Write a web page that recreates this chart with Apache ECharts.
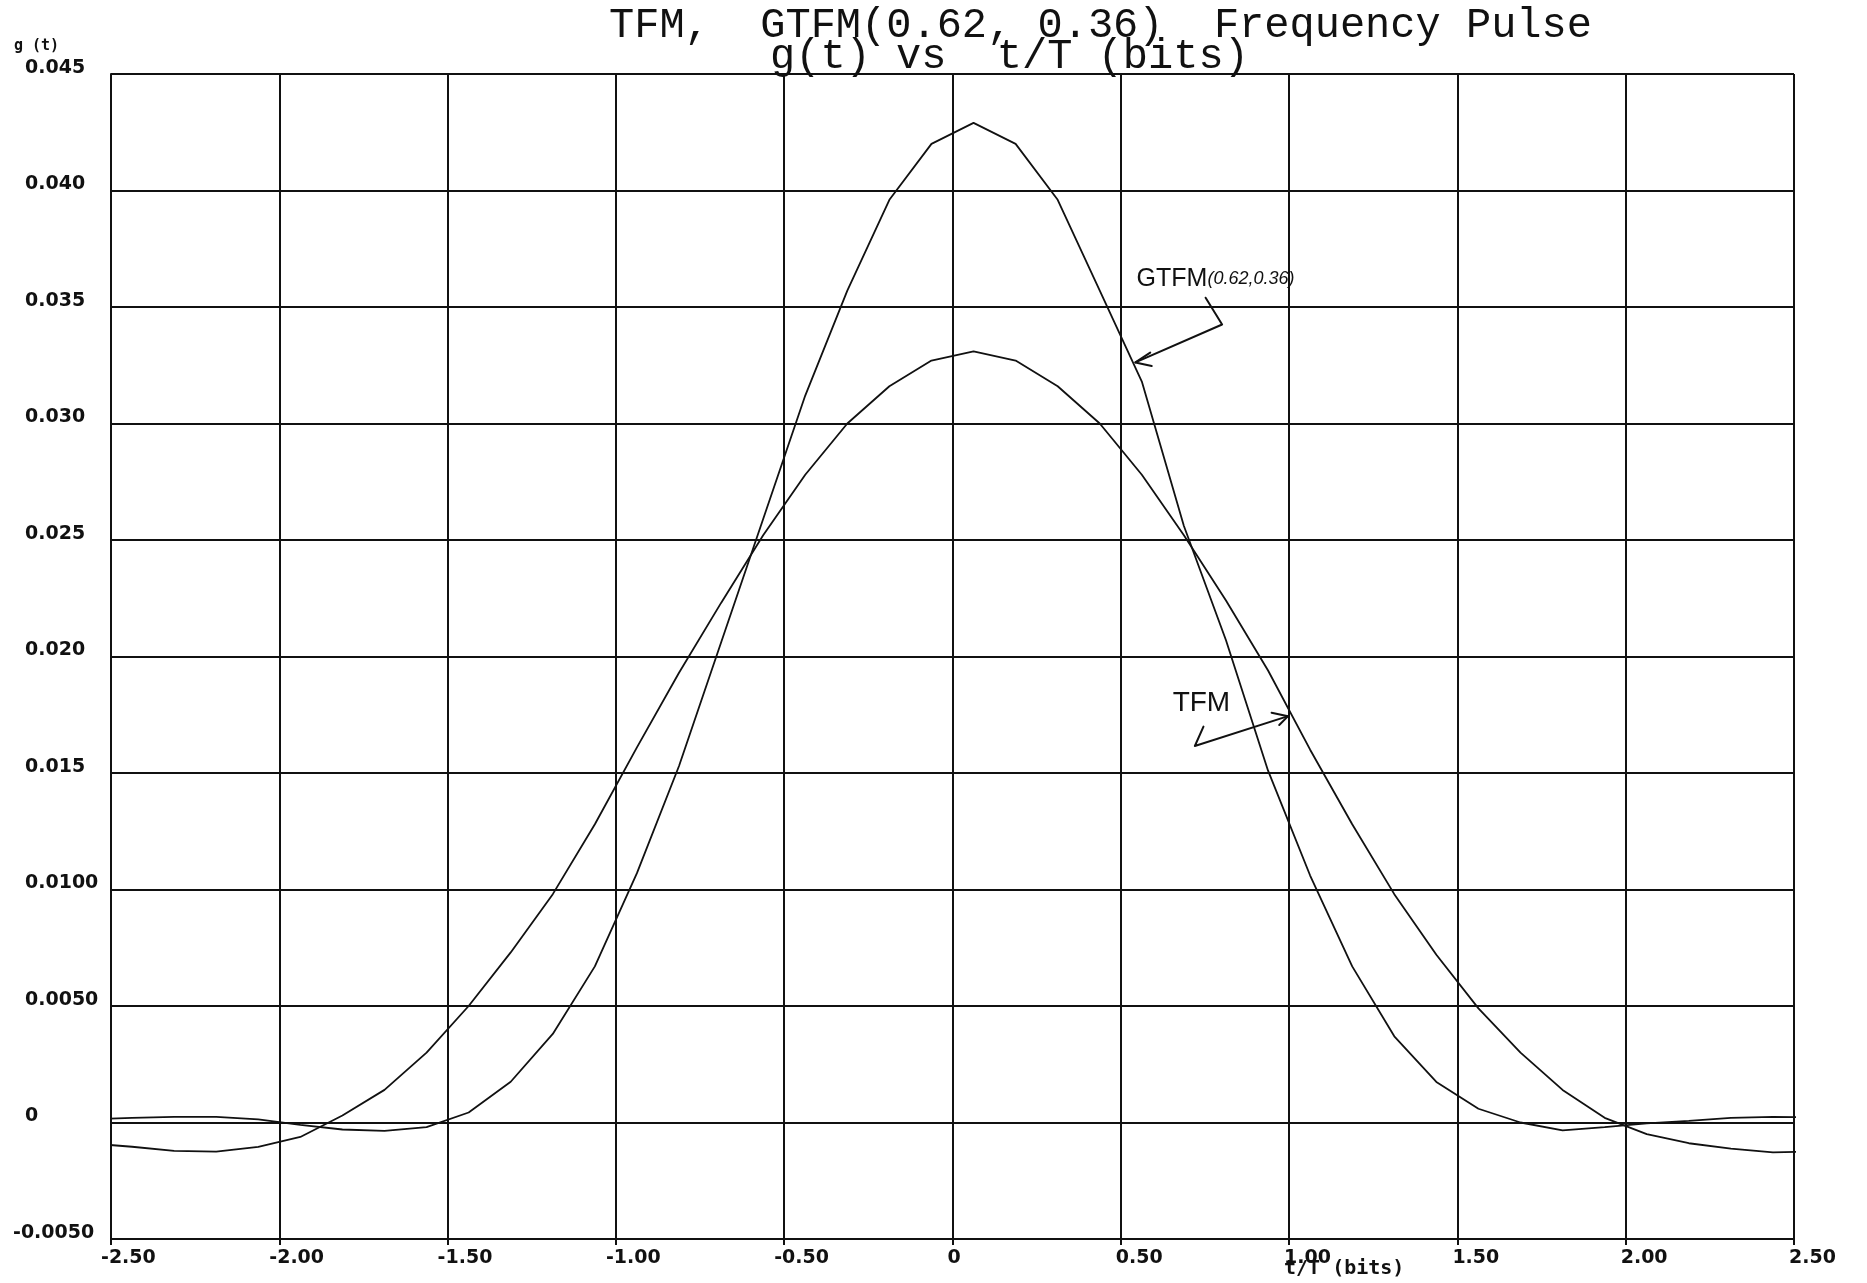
<!DOCTYPE html>
<html>
<head>
<meta charset="utf-8">
<title>TFM, GTFM(0.62, 0.36) Frequency Pulse</title>
<script src="https://cdn.jsdelivr.net/npm/echarts@6/dist/echarts.min.js"></script>
<style>
  html, body { margin: 0; padding: 0; background: #ffffff; }
  #chart { width: 1867px; height: 1283px; }
</style>
</head>
<body>
<div id="chart"></div>
<script>
// Sample instants t/T (bits); the pulses are centred on t/T = 1/16
const tSamples = [
  -2.5625, -2.4375, -2.3125, -2.1875, -2.0625, -1.9375, -1.8125, -1.6875,
  -1.5625, -1.4375, -1.3125, -1.1875, -1.0625, -0.9375, -0.8125, -0.6875,
  -0.5625, -0.4375, -0.3125, -0.1875, -0.0625,  0.0625,  0.1875,  0.3125,
   0.4375,  0.5625,  0.6875,  0.8125,  0.9375,  1.0625,  1.1875,  1.3125,
   1.4375,  1.5625,  1.6875,  1.8125,  1.9375,  2.0625,  2.1875,  2.3125,
   2.4375,  2.5625
];

// Tamed FM frequency pulse g(t)
const tfmPulse = [
  -0.00090, -0.00104, -0.00122, -0.00125, -0.00105, -0.00062,  0.00030,  0.00140,
   0.00300,  0.00500,  0.00730,  0.00980,  0.01280,  0.01610,  0.01930,  0.02230,
   0.02520,  0.02780,  0.03000,  0.03160,  0.03270,  0.03310,  0.03270,  0.03160,
   0.03000,  0.02780,  0.02520,  0.02240,  0.01940,  0.01600,  0.01280,  0.00980,
   0.00720,  0.00490,  0.00300,  0.00140,  0.00020, -0.00050, -0.00089, -0.00112,
  -0.00128, -0.00125
];

// Generalised TFM (0.62, 0.36) frequency pulse g(t)
const gtfmPulse = [
   0.00014,  0.00020,  0.00024,  0.00024,  0.00013, -0.00010, -0.00030, -0.00036,
  -0.00020,  0.00043,  0.00175,  0.00380,  0.00670,  0.01070,  0.01530,  0.02060,
   0.02590,  0.03120,  0.03570,  0.03960,  0.04200,  0.04290,  0.04200,  0.03960,
   0.03570,  0.03180,  0.02560,  0.02070,  0.01510,  0.01060,  0.00670,  0.00370,
   0.00174,  0.00059,  0.00000, -0.00034, -0.00020, -0.00004,  0.00007,  0.00020,
   0.00024,  0.00022
];

const xTickLabels = ['-2.50', '-2.00', '-1.50', '-1.00', '-0.50', '0', '0.50', '1.00', '1.50', '2.00', '2.50'];
const yTickLabels = ['-0.0050', '0', '0.0050', '0.0100', '0.015', '0.020', '0.025', '0.030', '0.035', '0.040', '0.045'];

// Hand-drawn callouts, anchored in data space (t/T, g)
const gtfmNote = {
  at: [0.547, 0.03567],
  hook: [[0.752, 0.03540], [0.801, 0.03425], [0.5434, 0.03262]],
  head: [[0.5874, 0.03304], [0.5434, 0.03262], [0.592, 0.03247]]
};
const tfmNote = {
  at: [0.654, 0.01741],
  hook: [[0.7456, 0.01699], [0.720, 0.01616], [0.997, 0.01744]],
  head: [[0.948, 0.01759], [0.997, 0.01744], [0.9707, 0.01706]]
};

const INK = '#111111';
const LABEL_FONT = '"DejaVu Sans", "Liberation Sans", sans-serif';
const MONO = '"DejaVu Sans Mono", "Liberation Mono", monospace';

function labelFor(list, v) {
  const hit = list.find(s => Math.abs(parseFloat(s) - v) < 1e-9);
  return hit === undefined ? '' : hit;
}

const chart = echarts.init(document.getElementById('chart'), null, { renderer: 'canvas' });

chart.setOption({
  animation: false,
  backgroundColor: '#ffffff',
  title: [
    {
      text: 'TFM,  GTFM(0.62, 0.36)  Frequency Pulse',
      left: 609, top: 5, padding: 0,
      textStyle: { fontFamily: '"Liberation Mono", monospace', fontSize: 42, fontWeight: 'normal', color: INK }
    },
    {
      text: 'g(t) vs  t/T (bits)',
      left: 770, top: 36, padding: 0,
      textStyle: { fontFamily: '"Liberation Mono", monospace', fontSize: 42, fontWeight: 'normal', color: INK }
    }
  ],
  grid: { left: 111, right: 73, top: 74, bottom: 44, outerBoundsMode: 'none' },
  xAxis: {
    type: 'value',
    min: -2.5, max: 2.5, interval: 0.5,
    axisLine: { show: true, onZero: false, lineStyle: { color: INK, width: 2 } },
    axisTick: { show: true, inside: false, length: 6, lineStyle: { color: INK, width: 2 } },
    splitLine: { show: true, lineStyle: { color: INK, width: 2 } },
    axisLabel: {
      show: true,
      align: 'left',
      margin: 10,
      color: INK,
      fontFamily: LABEL_FONT,
      fontWeight: 'bold',
      fontSize: 19,
      formatter: v => {
        const s = labelFor(xTickLabels, v);
        return v < 0 ? '{n|' + s + '}' : '{p|' + s + '}';
      },
      rich: {
        n: { fontFamily: LABEL_FONT, fontWeight: 'bold', fontSize: 19, color: INK, padding: [0, 0, 0, -10] },
        p: { fontFamily: LABEL_FONT, fontWeight: 'bold', fontSize: 19, color: INK, padding: [0, 0, 0, -5] }
      }
    }
  },
  yAxis: {
    type: 'value',
    min: -0.005, max: 0.045, interval: 0.005,
    axisLine: { show: true, onZero: false, lineStyle: { color: INK, width: 2 } },
    axisTick: { show: false },
    splitLine: { show: true, lineStyle: { color: INK, width: 2 } },
    axisLabel: {
      show: true,
      align: 'left',
      verticalAlign: 'bottom',
      lineHeight: 12,
      margin: 86,
      color: INK,
      fontFamily: LABEL_FONT,
      fontWeight: 'bold',
      fontSize: 19,
      formatter: v => {
        const s = labelFor(yTickLabels, v);
        return v < 0 ? '{n|' + s + '}' : s;
      },
      rich: {
        n: { fontFamily: LABEL_FONT, fontWeight: 'bold', fontSize: 19, lineHeight: 12, color: INK, padding: [0, 0, 0, -12] }
      }
    }
  },
  series: [
    {
      name: 'TFM',
      type: 'line',
      data: tSamples.map((t, i) => [t, tfmPulse[i]]),
      showSymbol: false,
      smooth: false,
      clip: true,
      lineStyle: { color: INK, width: 1.8 },
      z: 5
    },
    {
      name: 'GTFM(0.62,0.36)',
      type: 'line',
      data: tSamples.map((t, i) => [t, gtfmPulse[i]]),
      showSymbol: false,
      smooth: false,
      clip: true,
      lineStyle: { color: INK, width: 1.8 },
      z: 5
    }
  ]
});

// Axis captions and callouts, placed after the grid is laid out
const px = p => chart.convertToPixel({ gridIndex: 0 }, p);
const stroke = { stroke: INK, lineWidth: 2, fill: null, lineJoin: 'round', lineCap: 'round' };

function callout(note, textStyle) {
  const a = px(note.at);
  return [
    { type: 'polyline', shape: { points: note.hook.map(px) }, style: stroke, z: 20 },
    { type: 'polyline', shape: { points: note.head.map(px) }, style: stroke, z: 20 },
    { type: 'text', z: 20, style: Object.assign({ x: a[0], y: a[1], fill: INK, align: 'left', verticalAlign: 'bottom' }, textStyle) }
  ];
}

chart.setOption({
  graphic: [
    {
      type: 'text', z: 20,
      style: { text: 'g (t)', x: 14, y: 39, fill: INK, font: 'bold 15px ' + MONO, align: 'left', verticalAlign: 'top' }
    },
    {
      type: 'text', z: 20,
      style: { text: 't/T (bits)', x: 1284, y: 1259, fill: INK, font: 'bold 20px ' + MONO, align: 'left', verticalAlign: 'top' }
    }
  ]
  .concat(callout(gtfmNote, {
    text: '{a|GTFM}{b|(0.62,0.36)}',
    rich: {
      a: { fontFamily: '"Liberation Sans", sans-serif', fontSize: 25, fill: INK, color: INK },
      b: { fontFamily: '"Liberation Sans", sans-serif', fontSize: 18, fontStyle: 'italic', fill: INK, color: INK }
    }
  }))
  .concat(callout(tfmNote, {
    text: 'TFM',
    font: '28px "Liberation Sans", sans-serif'
  }))
});
</script>
</body>
</html>
